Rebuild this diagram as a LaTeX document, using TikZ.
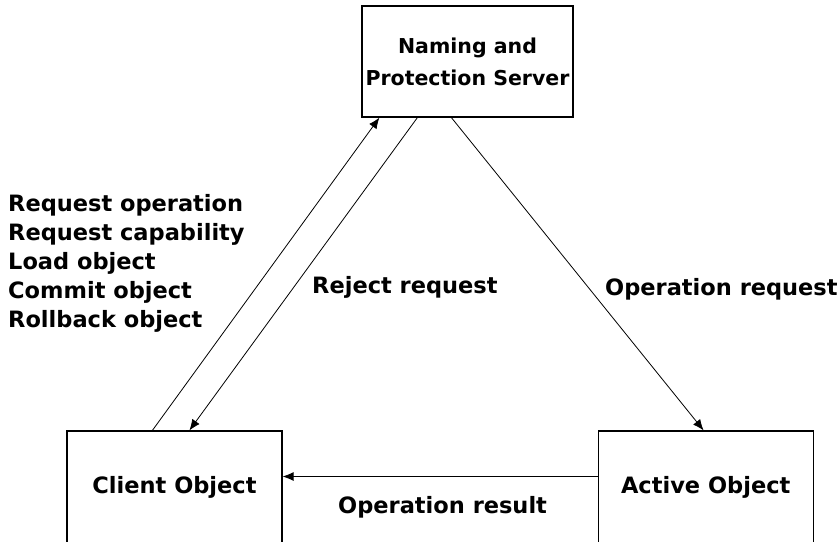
\documentclass[tikz,border=0pt]{standalone}
\usepackage{fontspec}
\setmainfont{DejaVu Sans}
\usetikzlibrary{positioning}
\usetikzlibrary{arrows.meta}

\begin{document}
\begin{tikzpicture}[x=1pt, y=-1pt,
		box/.style={draw, line width=1.2pt, minimum width=215pt, minimum height=113pt, align=center, inner sep=0pt, font=\fontsize{22.5}{32}\selectfont\bfseries},
		lbl/.style={inner sep=0pt, font=\fontsize{22.5}{29}\selectfont\bfseries},
		arrow/.style={-{Latex[length=11pt,width=9pt]}, line width=0.8pt}]
		\useasboundingbox (0,0) rectangle (840,541);
		\clip (0,0) rectangle (840,541);
		
		\node[box, minimum width=211pt, minimum height=111pt, font=\fontsize{20.5}{32}\selectfont\bfseries] (server) at (467.5,61.5) {Naming and\\Protection Server};
		\node[box] (client) at (174.5,487.5) {Client Object};
		\node[box, right = 315pt of client] (active) {Active Object};
		
		\node[lbl, anchor=west, align=left] (calls) at (8,263) {Request operation\\Request capability\\Load object\\Commit object\\Rollback object};
		\node[lbl, anchor=base west] (reject) at (312,293) {Reject request};
		\node[lbl, anchor=base west] (opreq) at (605,295) {Operation request};
		\node[lbl, anchor=base west] (opres) at (338,513) {Operation result};
		
		\draw[arrow] ([xshift=86pt]client.north west) -- ([xshift=18pt]server.south west);
		\draw[arrow] ([xshift=56pt]server.south west) -- ([xshift=123pt]client.north west);
		\draw[arrow] ([xshift=90pt]server.south west) -- ([xshift=106pt]active.north west);
		\draw[arrow] ([yshift=11pt]active.west) -- ([yshift=11pt]active.west -| client.east);
	\end{tikzpicture}
\end{document}
